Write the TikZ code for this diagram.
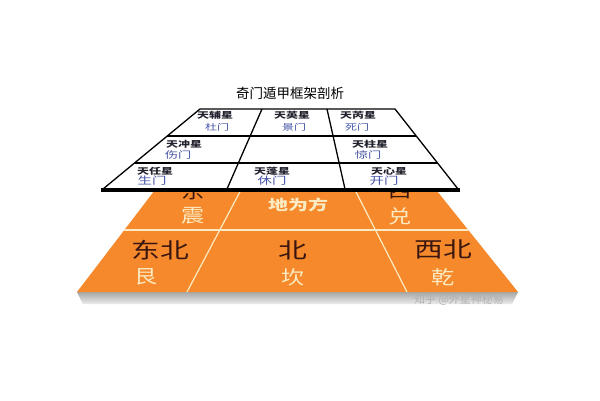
\documentclass[tikz,border=0pt]{standalone}
\usepackage{fontspec}
\setmainfont{Noto Sans CJK SC}
\definecolor{orng}{HTML}{F5892B}
\definecolor{cream}{HTML}{FCEBC2}
\definecolor{dkbrown}{HTML}{3A1610}
\definecolor{star}{HTML}{22222E}
\definecolor{door}{HTML}{4656A8}
\tikzset{
  cell1/.style={inner sep=0pt, xscale=1.2, yscale=0.85, font=\fontsize{10}{10}\selectfont},
  cell2/.style={inner sep=0pt, xscale=1.2, yscale=0.85, font=\fontsize{11}{11}\selectfont},
  cell3/.style={inner sep=0pt, xscale=1.2, yscale=0.85, font=\fontsize{12}{12}\selectfont},
  starname/.style={text=star, font=\bfseries},
  big/.style={inner sep=0pt, xscale=1.2, yscale=0.9, font=\fontsize{24}{24}\selectfont},
  mid/.style={inner sep=0pt, xscale=1.1, yscale=0.9, font=\fontsize{21}{21}\selectfont},
  divline/.style={draw=cream, line width=1.2pt},
  gridline/.style={draw=black, line width=1.3pt, line join=round}
}
\begin{document}
\begin{tikzpicture}[x=1pt,y=-1pt]
\useasboundingbox (0,0) rectangle (600,400);
\fill[white] (0,0) rectangle (600,400);
% shadow band under base
\shade[top color=gray!70, bottom color=gray!15] (77,292) -- (518,292) -- (512,304) -- (83,304) -- cycle;
% orange base
\coordinate (BL) at (77,292);
\coordinate (BR) at (518,292);
\coordinate (TR) at (433,186);
\coordinate (TL) at (158,186);
\fill[orng] (BL) -- (BR) -- (TR) -- (TL) -- cycle;
\begin{scope}
\clip (BL) -- (BR) -- (TR) -- (TL) -- cycle;
\draw[divline] (100,230) -- (500,230);
\draw[divline] (187,292) -- (243,186);
\draw[divline] (407,292) -- (353,186);
\end{scope}
% base texts
\node[big, text=dkbrown] (dongbei) at (160,250) {东北};
\node[mid, text=cream] (gen) at (146,277) {艮};
\node[big, text=dkbrown] (bei) at (293,250) {北};
\node[mid, text=cream] (kan) at (293,277) {坎};
\node[big, text=dkbrown] (xibei) at (443,249) {西北};
\node[mid, text=cream] (qian) at (443,277) {乾};
\node[mid, text=dkbrown] (dong) at (193,191) {东};
\node[mid, text=cream] (zhen) at (193,216) {震};
\node[mid, text=dkbrown] (xi) at (400,191) {西};
\node[mid, text=cream] (dui) at (400,216) {兑};
\node[inner sep=0pt, xscale=1.25, yscale=0.9, text=cream, font=\fontsize{16}{16}\selectfont\bfseries] (diweifang) at (298,205) {地为方};
% watermark
\node[inner sep=0pt, text=gray!60, font=\fontsize{11}{11}\selectfont] (wm) at (459,300) {知乎 @外星神秘易};
% title
\node[inner sep=0pt, font=\fontsize{13.5}{13.5}\selectfont] (title) at (290,93) {奇门遁甲框架剖析};
% top grid
\coordinate (gTL) at (200,109);
\coordinate (gTR) at (395,109);
\coordinate (gBR) at (458,189);
\coordinate (gBL) at (103,189);
\fill[white] (gTL) -- (gTR) -- (gBR) -- (gBL) -- cycle;
\draw[gridline] (gTL) -- (gTR) -- (gBR) -- (gBL) -- cycle;
\draw[gridline] (167,136) -- (416,136);
\draw[gridline] (134.5,163) -- (437.5,163);
\draw[gridline] (262,109) -- (227,189);
\draw[gridline] (327,109) -- (345,189);
\draw[black, line width=3.2pt] (101,190) -- (460,190);
% cell texts
\node[cell1, starname] (s1) at (215,115) {天辅星};
\node[cell1, text=door] (d1) at (217,127) {杜门};
\node[cell1, starname] (s2) at (292,115) {天英星};
\node[cell1, text=door] (d2) at (294,127) {景门};
\node[cell1, starname] (s3) at (358,115) {天芮星};
\node[cell1, text=door] (d3) at (357,127) {死门};
\node[cell2, starname] (s4) at (184,144) {天冲星};
\node[cell2, text=door] (d4) at (178,155) {伤门};
\node[cell2, starname] (s6) at (370,144) {天柱星};
\node[cell2, text=door] (d6) at (368,155) {惊门};
\node[cell3, starname] (s7) at (155,171) {天任星};
\node[cell3, text=door] (d7) at (152,181) {生门};
\node[cell3, starname] (s8) at (272,171) {天蓬星};
\node[cell3, text=door] (d8) at (272,181) {休门};
\node[cell3, starname] (s9) at (389,171) {天心星};
\node[cell3, text=door] (d9) at (384,181) {开门};
\end{tikzpicture}
\end{document}
